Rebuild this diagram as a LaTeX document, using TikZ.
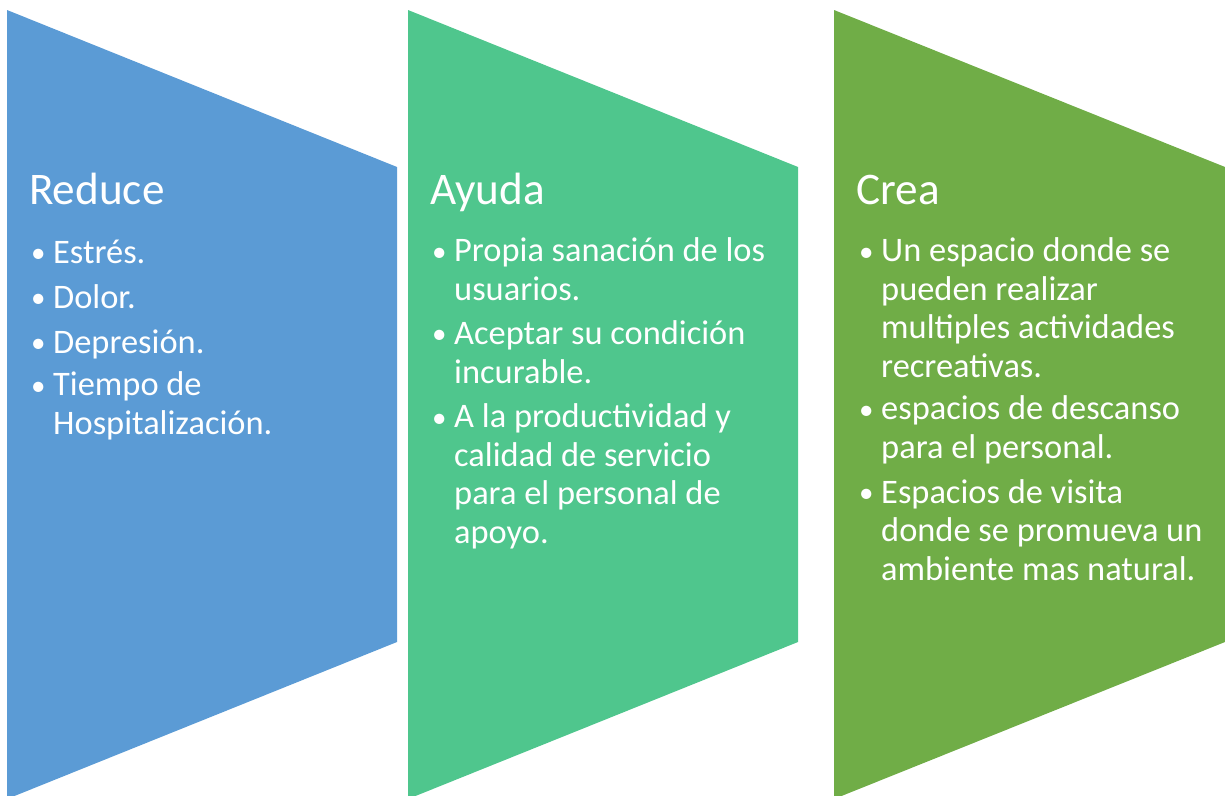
\documentclass[tikz,border=0pt]{standalone}
\usepackage{fontspec}
\setmainfont{Carlito}
\usepackage{tikz}
\definecolor{pblue}{HTML}{5B9BD5}
\definecolor{pteal}{HTML}{4FC68D}
\definecolor{pgreen}{HTML}{70AD47}

\begin{document}
\begin{tikzpicture}[
  x=1pt,y=-1pt,
  hd/.style={anchor=base west,inner sep=0pt,text=white,
             font=\fontsize{45.2}{54}\selectfont},
  it/.style={anchor=base west,inner sep=0pt,text=white,align=left,
             font=\fontsize{34.4}{38.4}\selectfont},
  bl/.style={anchor=base west,inner sep=0pt,text=white,
             font=\fontsize{29}{34}\selectfont}
]
\clip (0,0) rectangle (1225,795);
% panels
\fill[pblue]  (7,10)   -- (397,167)  -- (397,642)  -- (7,799)   -- cycle;
\fill[pteal]  (408,10) -- (798,167)  -- (798,642)  -- (408,799) -- cycle;
\fill[pgreen] (834,10) -- (1225,167) -- (1225,642) -- (834,799) -- cycle;
% Reduce (item nodes sit on the baseline of their last line)
\node[hd] (t1) at (29,204) {Reduce};
\node[bl] (b11) at (31,262) {\textbullet};
\node[it] (i11) at (53,263) {Estrés.};
\node[bl] (b12) at (31,307) {\textbullet};
\node[it] (i12) at (53,308) {Dolor.};
\node[bl] (b13) at (31,352) {\textbullet};
\node[it] (i13) at (53,353) {Depresión.};
\node[bl] (b14) at (31,395) {\textbullet};
\node[it] (i14) at (53,434) {Tiempo de\\Hospitalización.};
% Ayuda
\node[hd] (t2) at (430,204) {Ayuda};
\node[bl] (b21) at (432,261) {\textbullet};
\node[it] (i21) at (454,300) {Propia sanación de los\\usuarios.};
\node[bl] (b22) at (432,343) {\textbullet};
\node[it] (i22) at (454,383) {Aceptar su condición\\incurable.};
\node[bl] (b23) at (432,427) {\textbullet};
\node[it] (i23) at (454,543) {A la productividad y\\calidad de servicio\\para el personal de\\apoyo.};
% Crea
\node[hd] (t3) at (856,204) {Crea};
\node[bl] (b31) at (859,261) {\textbullet};
\node[it] (i31) at (881,377) {Un espacio donde se\\pueden realizar\\multiples actividades\\recreativas.};
\node[bl] (b32) at (859,419) {\textbullet};
\node[it] (i32) at (881,458) {espacios de descanso\\para el personal.};
\node[bl] (b33) at (859,502) {\textbullet};
\node[it] (i33) at (881,580) {Espacios de visita\\donde se promueva un\\ambiente mas natural.};
\end{tikzpicture}
\end{document}
